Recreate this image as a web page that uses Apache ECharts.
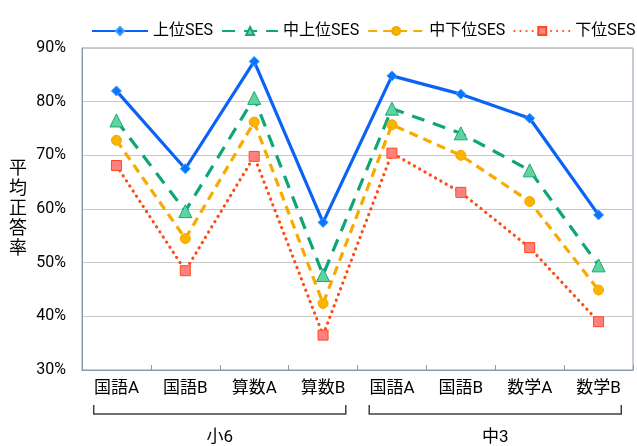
<!DOCTYPE html>
<html>
<head>
<meta charset="utf-8">
<script src="https://cdn.jsdelivr.net/npm/echarts@6/dist/echarts.min.js"></script>
<style>
html,body{margin:0;padding:0;background:#fff;}
#c{width:637px;height:446px;}
</style>
</head>
<body>
<div id="c"></div>
<script>
const categories = ['国語A','国語B','算数A','算数B','国語A','国語B','数学A','数学B'];
const groupNames = ['小6','中3'];
const groupRanges = [[0,3],[4,7]];
const seriesNames = ['上位SES','中上位SES','中下位SES','下位SES'];
const upper = [82.0, 67.5, 87.5, 57.5, 84.8, 81.4, 76.9, 58.9];
const midUpper = [76.5, 59.6, 80.7, 47.7, 78.7, 74.1, 67.2, 49.5];
const midLower = [72.8, 54.5, 76.2, 42.4, 75.7, 70.0, 61.4, 44.9];
const lower = [68.1, 48.5, 69.8, 36.5, 70.4, 63.1, 52.8, 39.0];
const yTicks = {min: 30, max: 90, interval: 10};

const FONT = 'Roboto, "Noto Sans CJK JP", sans-serif';
const frameColor = '#8a9ab0';

const chart = echarts.init(document.getElementById('c'), null, {renderer: 'canvas'});

function mkSeries(name, data, color, lineType, symbol, symbolSize, fill, border, cap) {
  return {
    name: name, type: 'line', data: data,
    symbol: symbol, symbolSize: symbolSize,
    lineStyle: {color: color, width: 3.2, type: lineType, cap: cap || 'butt'},
    itemStyle: {color: fill, borderColor: border, borderWidth: 1},
    z: 2
  };
}

const option = {
  backgroundColor: '#fff',
  animation: false,
  textStyle: {fontFamily: FONT},
  legend: {
    left: 86, top: 18, width: 560,
    itemWidth: 56, itemHeight: 10, itemGap: 8,
    textStyle: {fontSize: 16, color: '#000', fontFamily: FONT},
    data: seriesNames
  },
  grid: {left: 82, top: 48, right: 4, bottom: 76, show: true, borderColor: frameColor, borderWidth: 1, containLabel: false},
  xAxis: {
    type: 'category', data: categories, boundaryGap: true,
    axisLine: {lineStyle: {color: frameColor, width: 1}},
    axisTick: {show: true, inside: true, length: 5, lineStyle: {color: frameColor}},
    axisLabel: {fontSize: 17, color: '#000', margin: 10, fontFamily: FONT}
  },
  yAxis: {
    type: 'value', min: yTicks.min, max: yTicks.max, interval: yTicks.interval,
    name: '平\n均\n正\n答\n率', nameLocation: 'middle', nameRotate: 0, nameGap: 55,
    nameTextStyle: {fontSize: 18, lineHeight: 20, color: '#000', fontFamily: FONT},
    axisLine: {show: true, lineStyle: {color: frameColor}},
    axisTick: {show: false},
    splitLine: {lineStyle: {color: '#c8c8c8', width: 1}},
    axisLabel: {formatter: '{value}%', fontSize: 16, color: '#000', margin: 16, fontFamily: FONT}
  },
  series: [
    mkSeries(seriesNames[0], upper, '#0a63f5', 'solid', 'diamond', 10, '#0a74ff', '#39a0ff'),
    mkSeries(seriesNames[1], midUpper, '#0fa576', [13, 9], 'triangle', 13, '#5fd49e', '#18a878'),
    mkSeries(seriesNames[2], midLower, '#f7aa00', [9, 6], 'circle', 10, '#f9b400', '#f5a800'),
    mkSeries(seriesNames[3], lower, '#ff4a12', [0.1, 6], 'rect', 10, '#ff8080', '#ff4a1a', 'round')
  ]
};
chart.setOption(option);

// group brackets under the category labels
function drawBrackets() {
  const y0 = chart.convertToPixel({yAxisIndex: 0}, yTicks.min);
  const c0 = chart.convertToPixel({xAxisIndex: 0}, 0);
  const c1 = chart.convertToPixel({xAxisIndex: 0}, 1);
  const band = c1 - c0;
  const off = band * 0.33;
  const els = [];
  groupRanges.forEach(function (r, i) {
    const xl = chart.convertToPixel({xAxisIndex: 0}, r[0]) - off;
    const xr = chart.convertToPixel({xAxisIndex: 0}, r[1]) + off;
    const top = y0 + 35, bot = y0 + 44;
    els.push({
      type: 'polyline', silent: true,
      shape: {points: [[xl, top], [xl, bot], [xr, bot], [xr, top]]},
      style: {stroke: '#404040', lineWidth: 1.5, fill: null}
    });
    els.push({
      type: 'text', silent: true,
      x: (xl + xr) / 2, y: y0 + 68,
      style: {text: groupNames[i], fontSize: 17, fill: '#000', fontFamily: FONT, align: 'center', verticalAlign: 'middle'}
    });
  });
  chart.setOption({graphic: els});
}
drawBrackets();
</script>
</body>
</html>
